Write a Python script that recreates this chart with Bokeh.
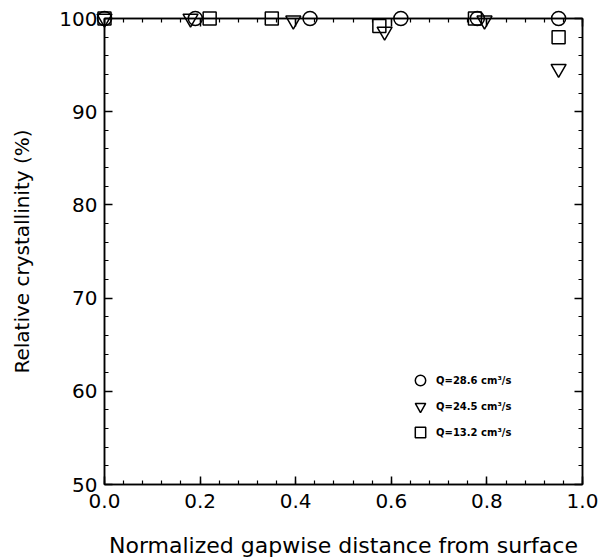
from bokeh.plotting import figure
from bokeh.models import LinearAxis, SingleIntervalTicker, Range1d, Legend, LegendItem, PrintfTickFormatter
from bokeh.embed import file_html
from bokeh.resources import INLINE

# Data
x_q286 = [0.0, 0.19, 0.43, 0.62, 0.78, 0.95]
y_q286 = [100.0, 100.0, 100.0, 100.0, 100.0, 100.0]
x_q245 = [0.0, 0.18, 0.395, 0.586, 0.795, 0.95]
y_q245 = [100.0, 100.0, 99.8, 98.6, 99.8, 94.6]
x_q132 = [0.0, 0.22, 0.35, 0.575, 0.775, 0.95]
y_q132 = [100.0, 100.0, 100.0, 99.2, 100.0, 98.0]
labels = ["Q=28.6 cm\u00b3/s", "Q=24.5 cm\u00b3/s", "Q=13.2 cm\u00b3/s"]

FONT = "DejaVu Sans"

p = figure(width=600, height=560, output_backend="svg", toolbar_location=None,
           x_range=Range1d(0, 1.0), y_range=Range1d(50, 100),
           min_border_left=104, min_border_right=18, min_border_top=18, min_border_bottom=76,
           x_axis_label="Normalized gapwise distance from surface",
           y_axis_label="Relative crystallinity (%)")
p.grid.visible = False
p.outline_line_color = "black"
p.outline_line_width = 1.5
p.background_fill_color = "white"
p.border_fill_color = "white"

bottom = p.below[0]
left = p.left[0]
bottom.ticker = SingleIntervalTicker(interval=0.2, num_minor_ticks=5)
left.ticker = SingleIntervalTicker(interval=10, num_minor_ticks=5)
bottom.formatter = PrintfTickFormatter(format="%.1f")

top = LinearAxis(ticker=SingleIntervalTicker(interval=0.2, num_minor_ticks=5))
right = LinearAxis(ticker=SingleIntervalTicker(interval=10, num_minor_ticks=5))
p.add_layout(top, "above")
p.add_layout(right, "right")

for ax in [bottom, left, top, right]:
    ax.major_tick_in = 8
    ax.major_tick_out = 0
    ax.minor_tick_in = 4
    ax.minor_tick_out = 0
    ax.axis_line_width = 1.5
    ax.major_tick_line_width = 1.5
    ax.minor_tick_line_width = 1.2
    ax.major_label_text_font = FONT
    ax.major_label_text_font_size = "20px"
    ax.major_label_text_color = "black"
    ax.axis_label_text_font = FONT
    ax.axis_label_text_font_style = "normal"
    ax.axis_label_text_font_size = "20px"
    ax.axis_label_text_color = "black"

for ax in [top, right]:
    ax.major_label_text_alpha = 0
    ax.major_label_text_font_size = "1px"
    ax.major_label_standoff = 0
    ax.axis_label = None

bottom.major_label_standoff = 9
bottom.axis_label_standoff = 22
bottom.axis_label_text_font_size = "22px"
left.major_label_standoff = 7
left.axis_label_standoff = 22

common = dict(fill_color=None, line_color="black", line_width=1.5, level="overlay")
r1 = p.scatter(x_q286, y_q286, marker="circle", size=14, **common)
r2 = p.scatter(x_q245, y_q245, marker="inverted_triangle", size=15, **common)
r3 = p.scatter(x_q132, y_q132, marker="square", size=13, **common)

legend = Legend(items=[LegendItem(label=labels[0], renderers=[r1]),
                       LegendItem(label=labels[1], renderers=[r2]),
                       LegendItem(label=labels[2], renderers=[r3])],
                location=(303, 39))
legend.border_line_color = None
legend.background_fill_alpha = 0
legend.padding = 0
legend.margin = 0
legend.spacing = 0
legend.glyph_width = 26
legend.glyph_height = 26
legend.label_height = 26
legend.label_standoff = 3
legend.label_text_font = FONT
legend.label_text_font_size = "10px"
legend.label_text_font_style = "bold"
legend.label_text_color = "black"
p.add_layout(legend, "center")

open("out.html", "w").write(file_html(p, INLINE))
